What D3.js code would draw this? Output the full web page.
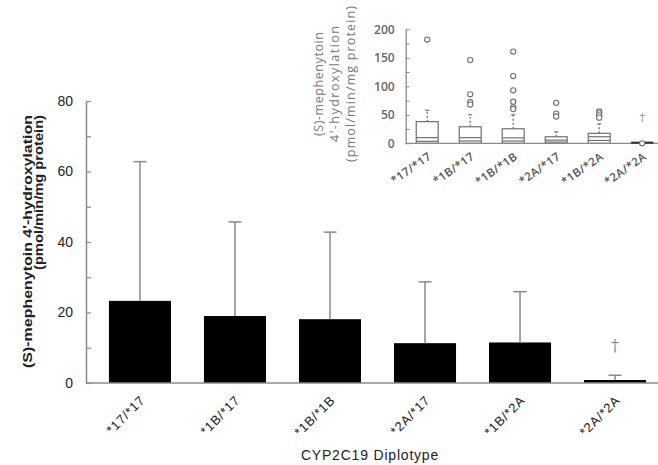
<!DOCTYPE html>
<html><head><meta charset="utf-8">
<script src="https://cdn.jsdelivr.net/npm/d3@7"></script>
<style>body{margin:0;background:#fff}svg{display:block}</style>
</head><body>
<script>
// ---- data ----
const categories = ["*17/*17","*1B/*17","*1B/*1B","*2A/*17","*1B/*2A","*2A/*2A"];
const means = [23.3, 19.0, 18.1, 11.3, 11.5, 0.85];
const sds = [39.5, 26.7, 24.7, 17.4, 14.4, 1.35];
const mainTicks = [0,10,20,30,40,50,60,70,80];
const insetTicks = [0,25,50,75,100,125,150,175,200];
// inset box plot stats
const q1 = [3.5, 4, 4, 2, 5, 0.3];
const medians = [10, 10, 9.5, 5.5, 11.5, 1];
const q3 = [38, 29, 25.5, 11.5, 17.5, 1.6];
const whiskLow = [0, 0, 0, 0, 0, 0];
const whiskHigh = [58, 50, 50, 20, 34, 1.6];
const outliers = [[182],[146,86,72,68],[161,118,93,73,63,60],[71,52,47],[56,53,49,45],[0]];

const W = 658, H = 465;
const svg = d3.select("body").append("svg").attr("width", W).attr("height", H);
const axisCol = "#8a8a8a";
const sans = "Liberation Sans, Arial, sans-serif";

// ---- main chart ----
const x = d3.scaleBand().domain(categories).range([92.5, 662.5]).paddingInner(0.347).paddingOuter(0.173);
const y = d3.scaleLinear().domain([0, 80]).range([383, 101]);
const x0 = 86;

const yAx = svg.append("g").attr("transform", `translate(${x0},0)`)
  .call(d3.axisLeft(y).tickValues(mainTicks).tickSizeInner(-5).tickSizeOuter(0).tickPadding(13)
    .tickFormat(d => d % 20 === 0 ? d : ""));
yAx.select(".domain").attr("stroke", axisCol).attr("stroke-width", 1.5);
yAx.selectAll(".tick line").attr("stroke", axisCol).attr("stroke-width", 1.2);
yAx.selectAll("text").attr("font-family", sans).attr("font-size", 14).attr("fill", "#222");

// bars
svg.append("g").selectAll("rect").data(categories).join("rect")
  .attr("x", d => x(d)).attr("width", x.bandwidth())
  .attr("y", (d,i) => y(means[i])).attr("height", (d,i) => y(0) - y(means[i]))
  .attr("fill", "#000");

// error bars
const eb = svg.append("g").attr("stroke", axisCol).attr("stroke-width", 1.5);
categories.forEach((c,i) => {
  const cx = x(c) + x.bandwidth()/2;
  eb.append("line").attr("x1", cx).attr("x2", cx).attr("y1", y(means[i])).attr("y2", y(means[i]+sds[i]));
  eb.append("line").attr("x1", cx-6.5).attr("x2", cx+6.5).attr("y1", y(means[i]+sds[i])).attr("y2", y(means[i]+sds[i]));
});

// baseline
svg.append("line").attr("x1", x0).attr("x2", W).attr("y1", y(0)).attr("y2", y(0))
  .attr("stroke", axisCol).attr("stroke-width", 1.5);

// x labels (rotated)
svg.append("g").selectAll("text").data(categories).join("text")
  .attr("transform", d => `translate(${x(d) + x.bandwidth()/2 + 6},${y(0) + 18}) rotate(-45)`)
  .attr("text-anchor", "end").attr("font-family", sans).attr("font-size", 13).attr("letter-spacing", 0.8)
  .attr("fill", "#222").text(d => d);

// dagger
svg.append("text").attr("x", x(categories[5]) + x.bandwidth()/2).attr("y", 351)
  .attr("text-anchor", "middle").attr("font-family", "DejaVu Serif, serif").attr("font-size", 16)
  .attr("fill", "#888").text("†");

// axis titles
svg.append("text").attr("x", 370).attr("y", 460).attr("text-anchor", "middle")
  .attr("font-family", sans).attr("font-size", 14).attr("letter-spacing", 0.8)
  .attr("fill", "#222").text("CYP2C19 Diplotype");
const yt = svg.append("g").attr("font-family", sans).attr("font-weight", "bold").attr("fill", "#222");
yt.append("text").attr("transform", "translate(32,115) rotate(-90)").attr("text-anchor", "end")
  .attr("font-size", 13.5).attr("textLength", 253).attr("lengthAdjust", "spacingAndGlyphs")
  .text("(S)-mephenytoin 4'-hydroxylation");
yt.append("text").attr("transform", "translate(43,115) rotate(-90)").attr("text-anchor", "end")
  .attr("font-size", 13.5).attr("textLength", 155).attr("lengthAdjust", "spacingAndGlyphs")
  .text("(pmol/min/mg protein)");

// ---- inset ----
const ix0 = 405.7;
const ix = d3.scaleBand().domain(categories).range([ix0, ix0 + 258]).paddingInner(0.49).paddingOuter(0.245);
const iy = d3.scaleLinear().domain([0, 200]).range([143.3, 29.3]);
const inCol = "#707070";

const iyAx = svg.append("g").attr("transform", `translate(${ix0},0)`)
  .call(d3.axisLeft(iy).tickValues(insetTicks).tickSizeInner(-4).tickSizeOuter(0).tickPadding(11)
    .tickFormat(d => d % 50 === 0 ? d : ""));
iyAx.select(".domain").attr("stroke", axisCol).attr("stroke-width", 1.3);
iyAx.selectAll(".tick line").attr("stroke", axisCol).attr("stroke-width", 1);
iyAx.selectAll("text").attr("font-family", "Open Sans, sans-serif").attr("font-weight", 600)
  .attr("font-size", 12).attr("fill", "#666");

const bx = svg.append("g").attr("stroke", inCol).attr("fill", "none");
categories.forEach((c,i) => {
  const cx = ix(c) + ix.bandwidth()/2, bw = ix.bandwidth();
  bx.append("line").attr("x1", cx).attr("x2", cx).attr("y1", iy(q3[i])).attr("y2", iy(whiskHigh[i]))
    .attr("stroke-dasharray", "2,2").attr("stroke-width", 1.3);
  bx.append("line").attr("x1", cx-2).attr("x2", cx+2).attr("y1", iy(whiskHigh[i])).attr("y2", iy(whiskHigh[i]))
    .attr("stroke-width", 1.2);
  bx.append("rect").attr("x", ix(c)).attr("width", bw).attr("y", iy(q3[i]))
    .attr("height", Math.max(1, iy(whiskLow[i]) - iy(q3[i]))).attr("fill", "#fff").attr("stroke-width", 1.2);
  bx.append("line").attr("x1", ix(c)).attr("x2", ix(c)+bw).attr("y1", iy(medians[i])).attr("y2", iy(medians[i]))
    .attr("stroke-width", 1.2);
  bx.append("line").attr("x1", ix(c)).attr("x2", ix(c)+bw).attr("y1", iy(q1[i])).attr("y2", iy(q1[i]))
    .attr("stroke-width", 1.2);
});

svg.append("line").attr("x1", ix0).attr("x2", W).attr("y1", iy(0)).attr("y2", iy(0))
  .attr("stroke", axisCol).attr("stroke-width", 1.3);
{
  const c = categories[5];
  svg.append("line").attr("x1", ix(c)).attr("x2", ix(c)+ix.bandwidth()).attr("y1", iy(medians[5])).attr("y2", iy(medians[5]))
    .attr("stroke", "#333").attr("stroke-width", 2);
}
const og = svg.append("g");
categories.forEach((c,i) => {
  const cx = ix(c) + ix.bandwidth()/2;
  og.selectAll(null).data(outliers[i]).join("circle")
    .attr("cx", cx).attr("cy", d => iy(d)).attr("r", 2.6)
    .attr("fill", "#fff").attr("stroke", inCol).attr("stroke-width", 1.1);
});
svg.append("text").attr("x", ix(categories[5]) + ix.bandwidth()/2).attr("y", 121)
  .attr("text-anchor", "middle").attr("font-family", "DejaVu Serif, serif").attr("font-size", 11)
  .attr("fill", "#888").text("†");

// inset x labels (rotated)
svg.append("g").selectAll("text").data(categories).join("text")
  .attr("transform", d => `translate(${ix(d) + ix.bandwidth()/2 + 5},${iy(0) + 15}) rotate(-35)`)
  .attr("text-anchor", "end").attr("font-family", "Open Sans, sans-serif").attr("font-weight", 600)
  .attr("font-size", 11.5).attr("letter-spacing", 0.4).attr("fill", "#555").text(d => d);

// inset y title
const it = svg.append("g").attr("font-family", "Open Sans, sans-serif").attr("fill", "#777").attr("font-size", 12.5);
it.append("text").attr("transform", "translate(323,84) rotate(-90)").attr("text-anchor", "middle")
  .attr("textLength", 104).attr("lengthAdjust", "spacing").text("(S)-mephenytoin");
it.append("text").attr("transform", "translate(339,84) rotate(-90)").attr("text-anchor", "middle")
  .attr("textLength", 116).attr("lengthAdjust", "spacing").text("4'-hydroxylation");
it.append("text").attr("transform", "translate(355,84) rotate(-90)").attr("text-anchor", "middle")
  .attr("textLength", 156).attr("lengthAdjust", "spacing").text("(pmol/min/mg protein)");
</script>
</body></html>
